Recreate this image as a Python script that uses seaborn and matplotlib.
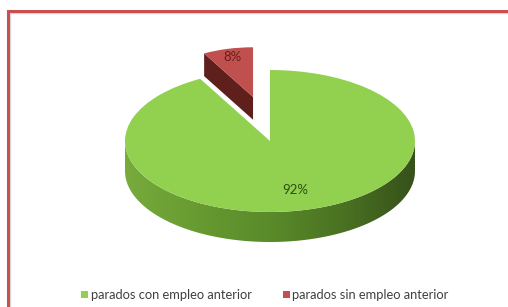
import numpy as np
import matplotlib
matplotlib.use('Agg')
import matplotlib.pyplot as plt
import seaborn as sns
from matplotlib.patches import Polygon, Rectangle
from matplotlib.colors import LinearSegmentedColormap

labels = ['parados con empleo anterior', 'parados sin empleo anterior']
shares = [92, 8]
colors = ['#92d050', '#c0504d']

sns.set_style('white')
plt.rcParams['font.family'] = ['Lato', 'DejaVu Sans']

W, H = 508, 307
fig = plt.figure(figsize=(W / 100, H / 100), dpi=100)
ax = fig.add_axes([0, 0, 1, 1])

# tilted pie: pixel centre and radii of the top ellipse
cx, cy, rx, ry = 270, 141, 145, 71
depth = 30 / ry

wedges, texts, autotexts = ax.pie(shares, colors=colors, startangle=90, counterclock=False,
                                  autopct='%1.0f%%', pctdistance=0.71,
                                  wedgeprops=dict(linewidth=0),
                                  textprops=dict(fontsize=9.5))
ax.set_aspect('auto')
ax.axis('off')

green, red = wedges
green.set_zorder(4)

# exploded slice, drawn smaller as it sits further back
apex = np.array([-0.117, 0.62])
r_red = 0.70
red.set_center(tuple(apex))
red.set_radius(r_red)
red.set_zorder(2)
a = np.deg2rad(red.theta2)
edge = apex + r_red * np.array([np.cos(a), np.sin(a)])
dr = 0.32
face = Polygon([apex, edge, edge - [0, dr], apex - [0, dr]], closed=True,
               facecolor='#5e1f1d', edgecolor='none', zorder=1)
ax.add_patch(face)
mid = np.deg2rad((red.theta1 + red.theta2) / 2)
autotexts[1].set_position(tuple(apex + 0.83 * r_red * np.array([np.cos(mid), np.sin(mid)])))
autotexts[1].set_color('#6b1c1a')
autotexts[1].set_zorder(6)
autotexts[0].set_color('#2f4d12')
autotexts[0].set_zorder(6)

# side of the green slice (front half)
t = np.linspace(np.pi, 2 * np.pi, 200)
top = np.column_stack([np.cos(t), np.sin(t)])
bot = top[::-1] - [0, depth]
side = Polygon(np.vstack([top, bot]), closed=True, facecolor='none', edgecolor='none', zorder=3)
ax.add_patch(side)
cmap = LinearSegmentedColormap.from_list('side', ['#78ab3c', '#679a31', '#5a8a2a', '#4a7222', '#36511a'])
grad = ax.imshow(np.linspace(0, 1, 256)[None, :], cmap=cmap, aspect='auto',
                 extent=(-1, 1, -1 - depth, 0), zorder=3)
grad.set_clip_path(side)
ax.set_xlim(-cx / rx, (W - cx) / rx)
ax.set_ylim((cy - H) / ry, cy / ry)

leg = ax.legend(wedges, labels, loc='center', bbox_to_anchor=(265 / W, 1 - 295 / H),
                ncol=2, frameon=False, fontsize=9.3, handlelength=0.55, handleheight=0.55,
                handletextpad=0.2, columnspacing=2.4, labelcolor='#404040')

# frame of the chart area
fig.add_artist(Rectangle((10 / W, -0.5), 2, 1 - 13 / H + 0.5, transform=fig.transFigure,
                         fill=False, edgecolor='#d8d8d8', lw=1))
fig.add_artist(Rectangle((7.5 / W, -0.5), 2, 1 - 10.5 / H + 0.5, transform=fig.transFigure,
                         fill=False, edgecolor='#c9504f', lw=2.2))

fig.savefig('out.png', dpi=100)
